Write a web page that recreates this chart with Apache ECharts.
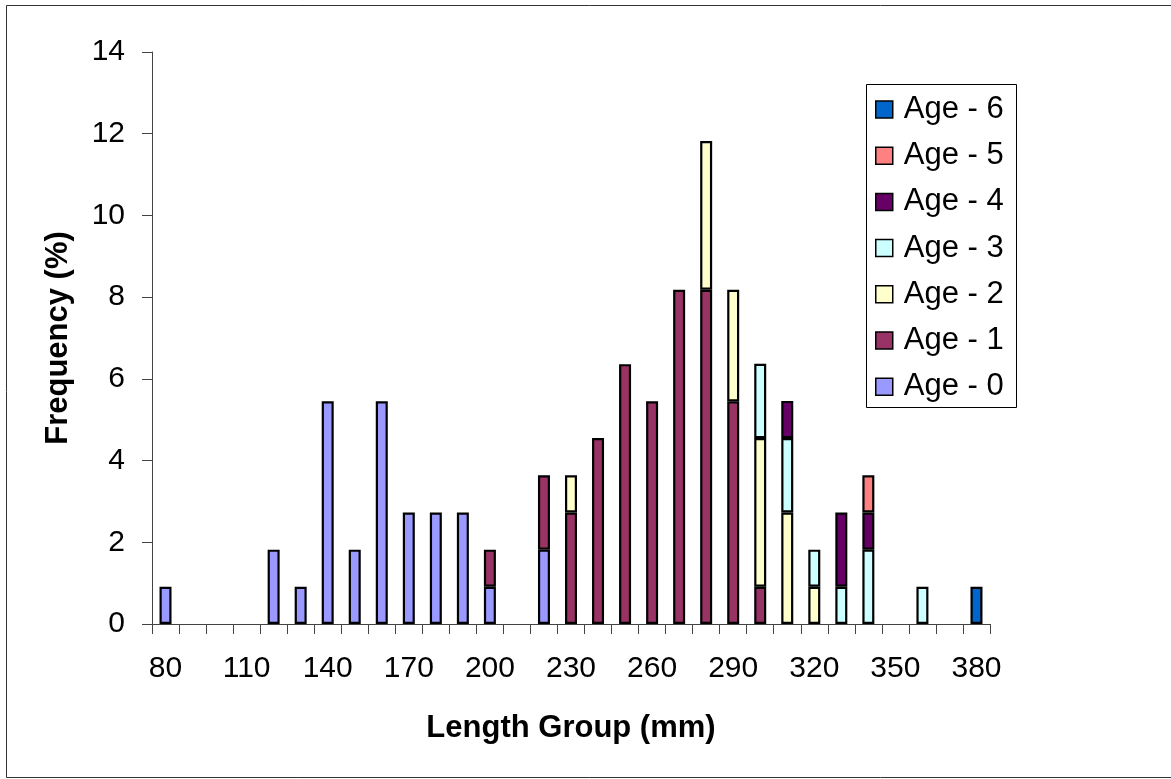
<!DOCTYPE html>
<html>
<head>
<meta charset="utf-8">
<script src="https://cdn.jsdelivr.net/npm/echarts@6/dist/echarts.min.js"></script>
<style>
html,body{margin:0;padding:0;background:#fff;}
#chart{width:1171px;height:779px;}
</style>
</head>
<body>
<div id="chart"></div>
<script>
// Categories: length groups (mm)
const categories = ["80","90","100","110","120","130","140","150","160","170","180","190","200","210","220","230","240","250","260","270","280","290","300","310","320","330","340","350","360","370","380"];
// Frequency (%) per age class, null = no bar
const age0 = [0.91,null,null,null,1.82,0.91,5.45,1.82,5.45,2.73,2.73,2.73,0.91,null,1.82,null,null,null,null,null,null,null,null,null,null,null,null,null,null,null,null];
const age1 = [null,null,null,null,null,null,null,null,null,null,null,null,0.91,null,1.82,2.73,4.55,6.36,5.45,8.18,8.18,5.45,0.91,null,null,null,null,null,null,null,null];
const age2 = [null,null,null,null,null,null,null,null,null,null,null,null,null,null,null,0.91,null,null,null,null,3.64,2.73,3.64,2.73,0.91,null,null,null,null,null,null];
const age3 = [null,null,null,null,null,null,null,null,null,null,null,null,null,null,null,null,null,null,null,null,null,null,1.82,1.82,0.91,0.91,1.82,null,0.91,null,null];
const age4 = [null,null,null,null,null,null,null,null,null,null,null,null,null,null,null,null,null,null,null,null,null,null,null,0.91,null,1.82,0.91,null,null,null,null];
const age5 = [null,null,null,null,null,null,null,null,null,null,null,null,null,null,null,null,null,null,null,null,null,null,null,null,null,null,0.91,null,null,null,null];
const age6 = [null,null,null,null,null,null,null,null,null,null,null,null,null,null,null,null,null,null,null,null,null,null,null,null,null,null,null,null,null,null,0.91];
const seriesNames = ["Age - 0","Age - 1","Age - 2","Age - 3","Age - 4","Age - 5","Age - 6"];
const seriesData = [age0, age1, age2, age3, age4, age5, age6];
const colors = ["#9999FF","#993366","#FFFFCC","#CCFFFF","#660066","#FF8080","#0066CC"];
const yTicks = {min:0, max:14, interval:2};

const FONT = "'Liberation Sans', Arial, sans-serif";
const chart = echarts.init(document.getElementById('chart'), null, {renderer:'canvas'});

const series = seriesNames.map((name, i) => ({
  name: name,
  type: 'bar',
  stack: 'age',
  data: seriesData[i],
  barWidth: 12,
  itemStyle: {color: colors[i], borderColor: '#000', borderWidth: 2.2},
  emphasis: {disabled: true}
}));

chart.setOption({
  animation: false,
  backgroundColor: '#fff',
  textStyle: {fontFamily: FONT},
  graphic: [
    {type:'rect', shape:{x:6.5, y:5.5, width:1170, height:772}, style:{fill:'none', stroke:'#333', lineWidth:1}, silent:true},
    {type:'rect', shape:{x:866.5, y:84.5, width:150, height:323}, style:{fill:'#fff', stroke:'#000', lineWidth:1}, silent:true, z:-1}
  ],
  grid: {left:152, top:52, width:838, height:572, containLabel:false},
  legend: {
    data: seriesNames.slice().reverse(),
    orient: 'vertical',
    left: 875,
    top: 94,
    padding: 0,
    itemWidth: 17,
    itemHeight: 17,
    itemGap: 15.2,
    icon: 'rect',
    itemStyle: {borderColor:'#000', borderWidth:1.5},
    textStyle: {fontSize: 31, color:'#000', fontFamily: FONT, lineHeight: 31, padding:[0,0,0,6]}
  },
  xAxis: {
    type: 'category',
    data: categories,
    name: 'Length Group (mm)',
    nameLocation: 'middle',
    nameGap: 104,
    nameTextStyle: {fontSize: 31, fontWeight:'bold', color:'#000', fontFamily: FONT, verticalAlign:'middle'},
    axisLine: {show:true, lineStyle:{color:'#444', width:1}},
    axisTick: {show:true, interval:0, length:10, inside:false, alignWithLabel:false, lineStyle:{color:'#444'}},
    axisLabel: {interval:2, fontSize:30, color:'#000', margin:30, fontFamily: FONT},
    splitLine: {show:false}
  },
  yAxis: {
    type: 'value',
    min: yTicks.min, max: yTicks.max, interval: yTicks.interval,
    name: 'Frequency (%)',
    nameLocation: 'middle',
    nameGap: 94,
    nameRotate: 90,
    nameTextStyle: {fontSize: 31, fontWeight:'bold', color:'#000', fontFamily: FONT, verticalAlign:'middle'},
    axisLine: {show:true, lineStyle:{color:'#444', width:1}},
    axisTick: {show:true, length:10, inside:false, lineStyle:{color:'#444'}},
    axisLabel: {fontSize:30, color:'#000', margin:27, fontFamily: FONT},
    splitLine: {show:false}
  },
  series: series
});
</script>
</body>
</html>
